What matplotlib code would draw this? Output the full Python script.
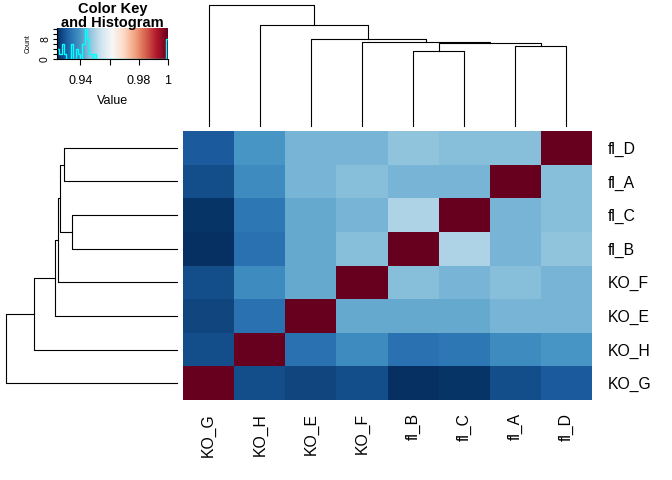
import numpy as np
import matplotlib as mpl
import matplotlib.pyplot as plt

mpl.rcParams.update({
    'font.family': ['Liberation Sans', 'DejaVu Sans'],
    'axes.linewidth': 0.8,
})

# samples in dendrogram (column) order, left to right
samples = ['KO_G', 'KO_H', 'KO_E', 'KO_F', 'fl_B', 'fl_C', 'fl_A', 'fl_D']

# correlation matrix, rows/columns in the order of `samples`
cor = np.array([
    [1.0000, 0.9283, 0.9270, 0.9283, 0.9240, 0.9248, 0.9283, 0.9300],  # KO_G
    [0.9283, 1.0000, 0.9336, 0.9381, 0.9336, 0.9345, 0.9381, 0.9396],  # KO_H
    [0.9270, 0.9336, 1.0000, 0.9425, 0.9425, 0.9425, 0.9443, 0.9443],  # KO_E
    [0.9283, 0.9381, 0.9425, 1.0000, 0.9457, 0.9443, 0.9457, 0.9443],  # KO_F
    [0.9240, 0.9336, 0.9425, 0.9457, 1.0000, 0.9504, 0.9443, 0.9468],  # fl_B
    [0.9248, 0.9345, 0.9425, 0.9443, 0.9504, 1.0000, 0.9443, 0.9457],  # fl_C
    [0.9283, 0.9381, 0.9443, 0.9457, 0.9443, 0.9443, 1.0000, 0.9457],  # fl_A
    [0.9300, 0.9396, 0.9443, 0.9443, 0.9468, 0.9457, 0.9457, 1.0000],  # fl_D
])

# hierarchical clustering merges; ints refer to earlier merges
merge_left = ['fl_B', 'fl_A', 0, 'KO_F', 'KO_E', 'KO_H', 'KO_G']
merge_right = ['fl_C', 'fl_D', 1, 2, 3, 4, 5]
merge_height = [0.616, 0.662, 0.682, 0.694, 0.714, 0.836, 1.0]

key_ticks = [0.94, 0.96, 0.98, 1.0]
key_ticklabels = ['0.94', '', '0.98', '1']

W, H = 672, 480
fig = plt.figure(figsize=(W / 100, H / 100), dpi=100)

def px_axes(x0, y0, x1, y1):
    return fig.add_axes([x0 / W, 1 - y1 / H, (x1 - x0) / W, (y1 - y0) / H])

def dendro_segments(leaves):
    pos = {name: i + 0.5 for i, name in enumerate(leaves)}
    node_pos, node_h, segs = [], [], []
    def get(c):
        if isinstance(c, str):
            return pos[c], 0.0
        return node_pos[c], node_h[c]
    for a, b, h in zip(merge_left, merge_right, merge_height):
        pa, ha = get(a)
        pb, hb = get(b)
        segs.append(([pa, pa, pb, pb], [ha, h, h, hb]))
        node_pos.append((pa + pb) / 2)
        node_h.append(h)
    return segs

cmap = plt.get_cmap('RdBu_r')
vmin, vmax = cor.min(), cor.max()

# heatmap
ax = px_axes(183, 131, 592, 400)
ax.pcolormesh(np.arange(9), np.arange(9), cor, cmap=cmap, vmin=vmin, vmax=vmax)
ax.set_xlim(0, 8)
ax.set_ylim(0, 8)
for s in ax.spines.values():
    s.set_visible(False)
ax.set_xticks(np.arange(8) + 0.5)
ax.set_xticklabels(samples, rotation=90, fontsize=11.3)
ax.set_yticks(np.arange(8) + 0.5)
ax.set_yticklabels(samples, fontsize=11.3)
ax.yaxis.tick_right()
ax.tick_params(axis='x', length=0, pad=9.4)
ax.tick_params(axis='y', length=0, pad=11.5)

segs = dendro_segments(samples)

# column dendrogram
axc = px_axes(183, 4.7, 592, 126)
for xs, ys in segs:
    axc.plot(xs, ys, color='black', lw=0.8, clip_on=False)
axc.set_xlim(0, 8)
axc.set_ylim(0, 1)
axc.axis('off')

# row dendrogram
axr = px_axes(6.3, 131, 176.7, 400)
for xs, ys in segs:
    axr.plot(ys, xs, color='black', lw=0.8, clip_on=False)
axr.set_ylim(0, 8)
axr.set_xlim(1, 0)
axr.axis('off')

# color key with histogram
axk = px_axes(57, 28, 168, 58.7)
ymax = 12.5
grad = np.linspace(vmin, vmax, 256)[np.newaxis, :]
axk.imshow(grad, cmap=cmap, vmin=vmin, vmax=vmax, aspect='auto',
           extent=[vmin, vmax, 0, ymax])
edges = np.linspace(vmin, vmax, 49)
counts, _ = np.histogram(cor.ravel(), bins=edges)
axk.step(edges, np.append(counts, counts[-1]), where='post', color='cyan', lw=1)
axk.set_xlim(vmin, vmax)
axk.set_ylim(0, ymax)
axk.set_xticks(key_ticks)
axk.set_xticklabels(key_ticklabels, fontsize=9)
axk.set_yticks([0, 2, 4, 6, 8, 10, 12])
axk.set_yticklabels(['0', '', '', '', '8', '', ''], fontsize=7.5, rotation=90, va='center')
axk.tick_params(axis='x', length=4.5, pad=7)
axk.tick_params(axis='y', length=3, pad=2)
for s in ['top', 'right']:
    axk.spines[s].set_visible(False)
axk.set_xlabel('Value', fontsize=9, labelpad=6)
axk.set_ylabel('Count', fontsize=5, labelpad=6)
fig.text(112.5 / W, 1 - 8.5 / H, 'Color Key', fontsize=10.5, fontweight='bold',
         ha='center', va='center')
fig.text(112.5 / W, 1 - 23.5 / H, 'and Histogram', fontsize=10.5, fontweight='bold',
         ha='center', va='center')

fig.savefig('out.png', dpi=100)
